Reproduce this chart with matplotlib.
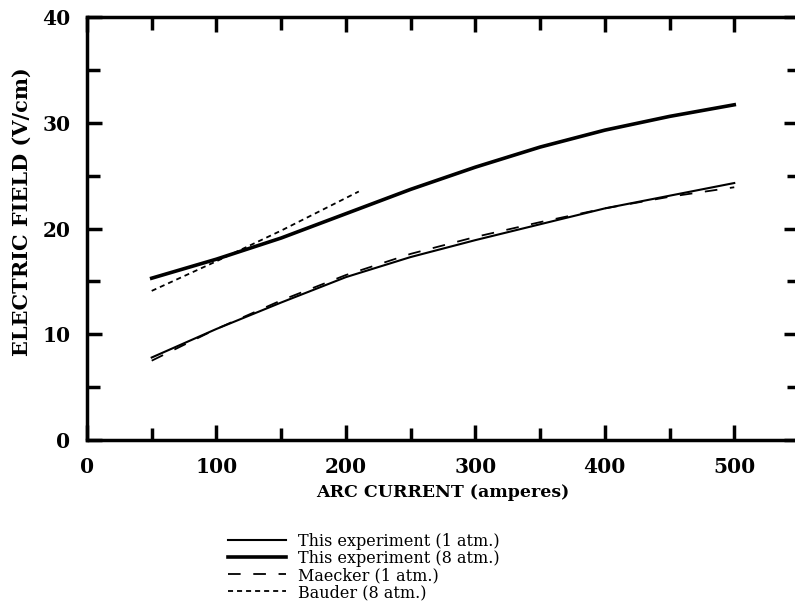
import matplotlib.pyplot as plt
from matplotlib.ticker import MultipleLocator

# arc current (amperes) and electric field (V/cm)
cur_1atm = [50, 100, 150, 200, 250, 300, 350, 400, 450, 500]
exp_1atm = [7.8, 10.5, 13.0, 15.4, 17.3, 18.9, 20.4, 21.9, 23.1, 24.3]

cur_8atm = [50, 100, 150, 200, 250, 300, 350, 400, 450, 500]
exp_8atm = [15.3, 17.1, 19.1, 21.4, 23.7, 25.8, 27.7, 29.3, 30.6, 31.7]

cur_maecker = [50, 100, 150, 200, 250, 300, 350, 400, 450, 500]
maecker_1atm = [7.5, 10.5, 13.2, 15.6, 17.6, 19.2, 20.6, 21.9, 23.0, 23.9]

cur_bauder = [50, 100, 150, 210]
bauder_8atm = [14.1, 16.9, 19.8, 23.5]

plt.rcParams['font.family'] = ['DejaVu Serif']

fig = plt.figure(figsize=(7.95, 6.14), dpi=100)
ax = fig.add_axes([0.1094, 0.2834, 0.8956, 0.6889])

l1, = ax.plot(cur_1atm, exp_1atm, color='black', lw=1.5)
l2, = ax.plot(cur_8atm, exp_8atm, color='black', lw=2.6)
l3, = ax.plot(cur_maecker, maecker_1atm, color='black', lw=1.3, ls=(0, (7, 7)))
l4, = ax.plot(cur_bauder, bauder_8atm, color='black', lw=1.3, ls=(0, (2.8, 2.2)))

ax.set_xlim(0, 550)
ax.set_ylim(0, 40)
ax.xaxis.set_major_locator(MultipleLocator(100))
ax.xaxis.set_minor_locator(MultipleLocator(50))
ax.yaxis.set_major_locator(MultipleLocator(10))
ax.yaxis.set_minor_locator(MultipleLocator(5))
ax.tick_params(which='both', direction='in', top=True, right=True, width=2.5, pad=12)
ax.tick_params(which='major', length=11, labelsize=14.5)
ax.tick_params(which='minor', length=9)
for s in ax.spines.values():
    s.set_linewidth(2.5)
for lab in ax.get_xticklabels() + ax.get_yticklabels():
    lab.set_fontweight('bold')

ax.set_xlabel('ARC CURRENT (amperes)', fontsize=12.5, fontweight='bold', labelpad=5)
ax.set_ylabel('ELECTRIC FIELD (V/cm)', fontsize=15, fontweight='bold')
ax.yaxis.set_label_coords(-0.078, 0.54)

fig.legend([l1, l2, l3, l4],
           ['This experiment (1 atm.)', 'This experiment (8 atm.)',
            'Maecker (1 atm.)', 'Bauder (8 atm.)'],
           loc='upper left', bbox_to_anchor=(0.277, 0.145), frameon=False,
           fontsize=11.5, handlelength=3.6, labelspacing=0.0, handletextpad=0.8,
           borderpad=0)

fig.savefig('out.png', dpi=100)
